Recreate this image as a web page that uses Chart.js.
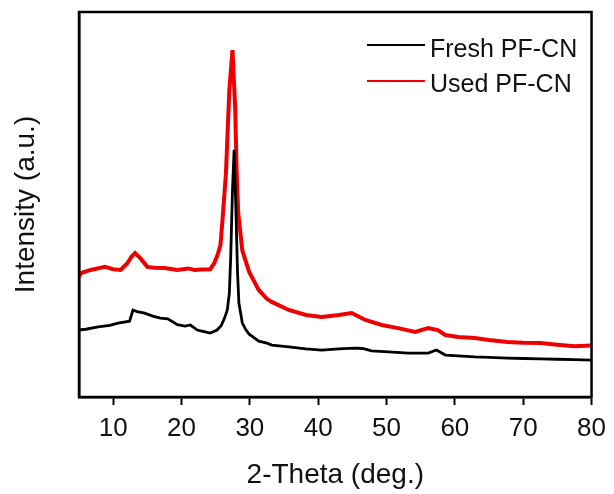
<!DOCTYPE html>
<html>
<head>
<meta charset="utf-8">
<script src="https://cdn.jsdelivr.net/npm/chart.js@4.4.1/dist/chart.umd.min.js"></script>
<style>
  html, body { margin: 0; padding: 0; background: #fff; }
  #wrap { width: 614px; height: 494px; }
</style>
</head>
<body>
<div id="wrap"><canvas id="xrd" width="614" height="494"></canvas></div>
<script>
// 2-theta positions and intensities (arbitrary units, 0..100)
const freshX = [5, 6, 7.8, 9.5, 10.7, 12.4, 12.9, 13.5, 14.6, 15.8, 16.9, 18, 19.4, 20.5, 21.3, 22.3, 23.3, 24.2, 25.2, 25.8, 26.3, 26.7, 27.0, 27.2, 27.46, 27.7, 27.95, 28.2, 28.4, 28.9, 29.4, 29.9, 30.3, 31.3, 32.5, 33.2, 35.7, 38.2, 40.5, 43, 45.4, 46.5, 47.8, 50.3, 53.2, 56.1, 57.3, 58.6, 60.5, 62.9, 65, 67.7, 70, 72.5, 75, 77.5, 80];
const freshY = [17.4, 17.6, 18.2, 18.6, 19.2, 19.7, 22.6, 22.2, 21.8, 21.0, 20.5, 20.3, 18.8, 18.4, 18.7, 17.4, 17.0, 16.6, 17.4, 18.5, 20.5, 22.6, 27, 36.4, 53.8, 64.2, 49.4, 32.2, 24.4, 19.2, 17.5, 16.3, 15.8, 14.5, 14, 13.5, 13, 12.5, 12.2, 12.5, 12.7, 12.6, 12.0, 11.7, 11.4, 11.4, 12.2, 10.9, 10.7, 10.4, 10.3, 10.1, 10.0, 9.9, 9.8, 9.7, 9.6];

const usedX = [5, 5.3, 6.7, 8.8, 10, 11.1, 12.1, 12.7, 13.2, 14, 15, 16, 17.5, 19.4, 21, 21.9, 23, 24.2, 24.8, 25.3, 25.7, 26.0, 26.5, 27.0, 27.46, 27.85, 28.05, 28.3, 28.9, 29.9, 31.3, 32.5, 33.2, 35.7, 38.2, 40.5, 43, 44.9, 46.9, 49.3, 51.7, 54.2, 56.1, 57.5, 58.6, 60.5, 62.9, 65, 67.7, 70, 72.5, 75, 77.5, 80];
const usedY = [31.2, 32.2, 33, 33.8, 33.2, 33, 34.8, 36.5, 37.4, 36, 33.8, 33.6, 33.5, 33, 33.4, 33, 33.1, 33.2, 34.8, 37, 39.5, 46, 58, 79.7, 90.1, 75.3, 59.7, 47.8, 38, 32.5, 27.8, 25.5, 24.7, 22.6, 21.3, 20.8, 21.3, 21.8, 20, 18.7, 17.9, 16.9, 17.9, 17.4, 16.1, 15.6, 15.3, 14.8, 14.3, 14.1, 14, 13.6, 13.2, 13.4];

const seriesNames = ['Fresh PF-CN', 'Used PF-CN'];
const xTickValues = [10, 20, 30, 40, 50, 60, 70, 80];

const toPoints = (xs, ys) => xs.map((x, i) => ({ x: x, y: ys[i] }));

// box around the plot + legend in the top right corner
const frameAndLegend = {
    id: 'frameAndLegend',
    afterDraw(chart) {
        const { ctx, chartArea } = chart;
        ctx.save();
        ctx.strokeStyle = '#000';
        ctx.lineWidth = 2.5;
        ctx.strokeRect(chartArea.left, chartArea.top, chartArea.right - chartArea.left, chartArea.bottom - chartArea.top);

        ctx.font = '25px "Liberation Sans", Arial, sans-serif';
        ctx.textBaseline = 'alphabetic';
        ctx.fillStyle = '#111';
        chart.data.datasets.forEach((ds, i) => {
            const y = 45 + i * 36;
            ctx.strokeStyle = ds.borderColor;
            ctx.lineWidth = 2;
            ctx.beginPath();
            ctx.moveTo(367, y);
            ctx.lineTo(425, y);
            ctx.stroke();
            ctx.fillText(ds.label, 430, 57 + i * 35);
        });
        ctx.restore();
    }
};

new Chart(document.getElementById('xrd').getContext('2d'), {
    type: 'line',
    data: {
        datasets: [{
            label: seriesNames[0],
            data: toPoints(freshX, freshY),
            borderColor: '#000000',
            borderWidth: 2.8,
            pointRadius: 0,
            tension: 0
        }, {
            label: seriesNames[1],
            data: toPoints(usedX, usedY),
            borderColor: '#ee0000',
            borderWidth: 4,
            pointRadius: 0,
            tension: 0
        }]
    },
    options: {
        responsive: false,
        animation: false,
        layout: { padding: { top: 12, right: 21, left: 0, bottom: 0 } },
        plugins: {
            legend: { display: false },
            tooltip: { enabled: false }
        },
        scales: {
            x: {
                type: 'linear',
                min: 5,
                max: 80,
                afterBuildTicks: (scale) => { scale.ticks = xTickValues.map(v => ({ value: v })); },
                afterFit: (scale) => { scale.height = 97; },
                grid: {
                    drawOnChartArea: false,
                    drawTicks: true,
                    tickLength: 8,
                    tickWidth: 2,
                    tickColor: '#000'
                },
                border: { display: true, color: '#000', width: 2.5 },
                ticks: {
                    color: '#111',
                    padding: 8,
                    maxRotation: 0,
                    font: { family: '"Liberation Sans", Arial, sans-serif', size: 26 }
                },
                title: {
                    display: true,
                    text: '2-Theta (deg.)',
                    color: '#111',
                    padding: { top: 0, bottom: 2 },
                    font: { family: '"Liberation Sans", Arial, sans-serif', size: 28 }
                }
            },
            y: {
                type: 'linear',
                min: 0,
                max: 100,
                afterFit: (scale) => { scale.width = 79; },
                grid: { display: false },
                border: { display: true, color: '#000', width: 2.5 },
                ticks: { display: false },
                title: {
                    display: true,
                    text: 'Intensity (a.u.)',
                    color: '#111',
                    padding: { top: 9, bottom: 0 },
                    font: { family: '"Liberation Sans", Arial, sans-serif', size: 28 }
                }
            }
        }
    },
    plugins: [frameAndLegend]
});
</script>
</body>
</html>
